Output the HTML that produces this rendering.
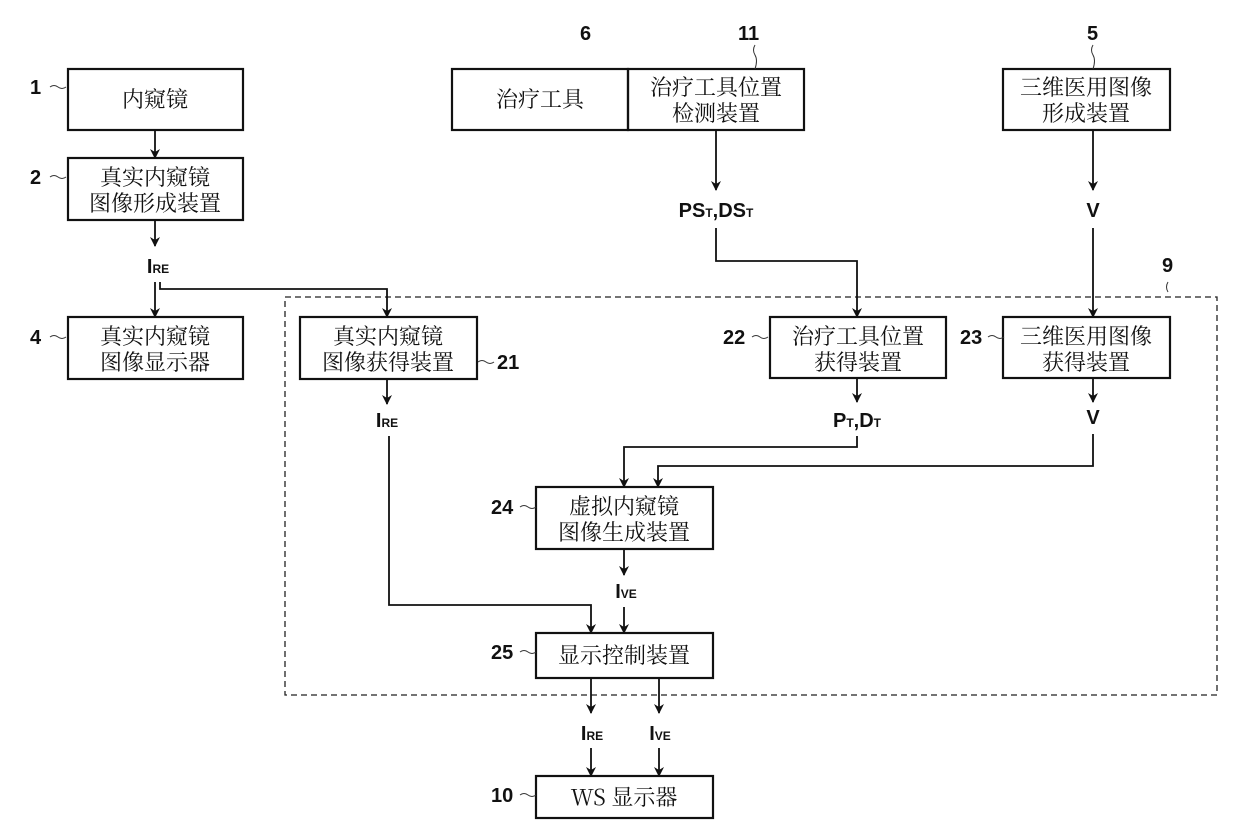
<!DOCTYPE html>
<html><head><meta charset="utf-8"><style>
html,body{margin:0;padding:0;background:#fff;}
svg{display:block}
.c{font-family:"Noto Serif CJK SC","Noto Sans CJK SC",serif;font-size:22px;fill:#111;text-anchor:middle}
.n{font-family:"Liberation Sans",sans-serif;font-weight:bold;font-size:20px;fill:#111}
.l{font-family:"Liberation Sans",sans-serif;font-weight:bold;font-size:20px;fill:#111;text-anchor:middle}
.s{font-size:12px}
</style></head><body>
<svg width="1240" height="825" viewBox="0 0 1240 825" xmlns="http://www.w3.org/2000/svg">
<defs><marker id="a" viewBox="0 0 10 10" refX="9" refY="5" markerWidth="10" markerHeight="10" markerUnits="userSpaceOnUse" orient="auto"><path d="M0,0 L10,5 L0,10 L3,5 z" fill="#111"/></marker></defs>
<g fill="none" stroke="#111" stroke-width="2.2">
<rect x="68" y="69" width="175" height="61"/>
<rect x="68" y="158" width="175" height="62"/>
<rect x="68" y="317" width="175" height="62"/>
<rect x="300" y="317" width="177" height="62"/>
<rect x="452" y="69" width="176" height="61"/>
<rect x="628" y="69" width="176" height="61"/>
<rect x="1003" y="69" width="167" height="61"/>
<rect x="770" y="317" width="176" height="61"/>
<rect x="1003" y="317" width="167" height="61"/>
<rect x="536" y="487" width="177" height="62"/>
<rect x="536" y="633" width="177" height="45"/>
<rect x="536" y="776" width="177" height="42"/>
</g>
<rect x="285" y="297" width="932" height="398" fill="none" stroke="#222" stroke-width="1.3" stroke-dasharray="6,4"/>
<g fill="none" stroke="#111" stroke-width="1.8" marker-end="url(#a)">
<path d="M155 130 V158"/>
<path d="M155 220 V246"/>
<path d="M155 282 V317"/>
<path d="M160 282 V289 H387 V317"/>
<path d="M716 130 V190"/>
<path d="M716 228 V261 H857 V317"/>
<path d="M1093 130 V190"/>
<path d="M1093 228 V317"/>
<path d="M387 379 V404"/>
<path d="M389 436 V605 H591 V633"/>
<path d="M857 378 V402"/>
<path d="M857 436 V447 H624 V487"/>
<path d="M1093 378 V402"/>
<path d="M1093 434 V466 H658 V487"/>
<path d="M624 549 V575"/>
<path d="M624 607 V633"/>
<path d="M591 678 V713"/>
<path d="M659 678 V713"/>
<path d="M591 748 V776"/>
<path d="M659 748 V776"/>
</g>
<g fill="none" stroke="#333" stroke-width="1">
<path d="M50 87 q4 -3 8 0 t8 0"/>
<path d="M50 177 q4 -3 8 0 t8 0"/>
<path d="M50 337 q4 -3 8 0 t8 0"/>
<path d="M478 362 q4 -3 8 0 t8 0"/>
<path d="M752 337 q4 -3 8 0 t8 0"/>
<path d="M988 337 q4 -3 8 0 t8 0"/>
<path d="M520 507 q4 -3 8 0 t8 0"/>
<path d="M520 652 q4 -3 8 0 t8 0"/>
<path d="M520 795 q4 -3 8 0 t8 0"/>
<path d="M755 45 q-3 5 0 10 t0 14"/>
<path d="M1093 45 q-3 5 0 10 t0 14"/>
<path d="M1168 282 q-3 5 0 10"/>
</g>
<g class="n">
<text x="30" y="94">1</text><text x="30" y="184">2</text><text x="30" y="344">4</text>
<text x="497" y="369">21</text><text x="723" y="344">22</text><text x="960" y="344">23</text>
<text x="491" y="514">24</text><text x="491" y="659">25</text><text x="491" y="802">10</text>
<text x="580" y="40">6</text><text x="738" y="40">11</text><text x="1087" y="40">5</text><text x="1162" y="272">9</text>
</g>
<g class="c">
<text x="155" y="107">内窥镜</text>
<text x="155" y="185">真实内窥镜</text><text x="155" y="211">图像形成装置</text>
<text x="155" y="344">真实内窥镜</text><text x="155" y="370">图像显示器</text>
<text x="388" y="344">真实内窥镜</text><text x="388" y="370">图像获得装置</text>
<text x="540" y="107">治疗工具</text>
<text x="716" y="95">治疗工具位置</text><text x="716" y="121">检测装置</text>
<text x="1086" y="95">三维医用图像</text><text x="1086" y="121">形成装置</text>
<text x="858" y="344">治疗工具位置</text><text x="858" y="370">获得装置</text>
<text x="1086" y="344">三维医用图像</text><text x="1086" y="370">获得装置</text>
<text x="624" y="514">虚拟内窥镜</text><text x="624" y="540">图像生成装置</text>
<text x="624" y="663">显示控制装置</text>
<text x="624" y="805">WS 显示器</text>
</g>
<g class="l">
<text x="158" y="273">I<tspan class="s">RE</tspan></text>
<text x="716" y="217">PS<tspan class="s">T</tspan>,DS<tspan class="s">T</tspan></text>
<text x="1093" y="217">V</text>
<text x="387" y="427">I<tspan class="s">RE</tspan></text>
<text x="857" y="427">P<tspan class="s">T</tspan>,D<tspan class="s">T</tspan></text>
<text x="1093" y="424">V</text>
<text x="626" y="598">I<tspan class="s">VE</tspan></text>
<text x="592" y="740">I<tspan class="s">RE</tspan></text>
<text x="660" y="740">I<tspan class="s">VE</tspan></text>
</g>
</svg>
</body></html>
